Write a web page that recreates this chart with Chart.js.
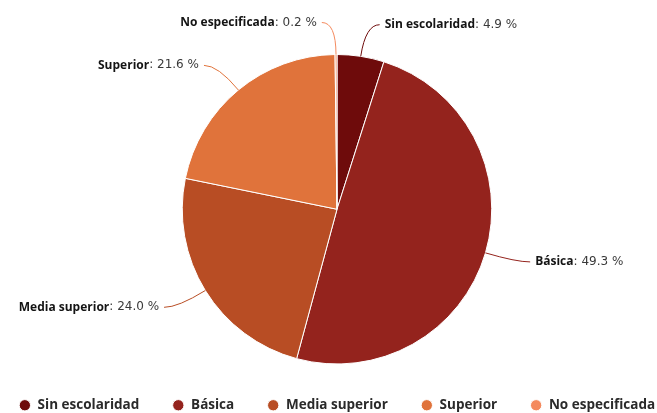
<!DOCTYPE html>
<html>
<head>
<meta charset="utf-8">
<script src="https://cdn.jsdelivr.net/npm/chart.js@4"></script>
<style>
  html, body { margin: 0; padding: 0; background: #fff; overflow: hidden; }
  #pie { display: block; margin-left: -43px; }
</style>
</head>
<body>
<canvas id="pie" width="760" height="422"></canvas>
<script>
// ── Data ─────────────────────────────────────
const CATEGORIES = ['Sin escolaridad', 'Básica', 'Media superior', 'Superior', 'No especificada'];
const SHARES     = [4.9, 49.3, 24.0, 21.6, 0.2];
const COLORS     = ['#6e0b0b', '#94231d', '#b84d24', '#e0733b', '#f48a5e'];

const NAME_FONT  = 'bold 12px "Open Sans"';
const VALUE_FONT = '12px "DejaVu Sans"';

// ── Outside labels with connectors ───────────
const sliceLabels = {
  id: 'sliceLabels',
  afterDatasetsDraw(chart) {
    const ctx  = chart.ctx;
    const arcs = chart.getDatasetMeta(0).data;
    ctx.save();
    ctx.textBaseline = 'middle';
    arcs.forEach((arc, i) => {
      const { x, y, startAngle, endAngle, outerRadius: r } =
        arc.getProps(['x', 'y', 'startAngle', 'endAngle', 'outerRadius'], true);
      const mid = (startAngle + endAngle) / 2;
      const cos = Math.cos(mid), sin = Math.sin(mid);
      const ax = x + cos * r,        ay = y + sin * r;
      const bx = x + cos * (r + 32), by = y + sin * (r + 32);
      const right = cos >= 0;
      const tx = bx + (right ? 19 : -19);

      // connector
      ctx.strokeStyle = COLORS[i];
      ctx.lineWidth = 1;
      ctx.beginPath();
      ctx.moveTo(ax, ay);
      ctx.quadraticCurveTo(bx, by, tx + (right ? -5 : 5), by);
      ctx.stroke();

      // text: bold name + normal value
      const name = CATEGORIES[i];
      const val  = ': ' + SHARES[i].toFixed(1) + ' %';
      ctx.font = NAME_FONT;
      const nw = ctx.measureText(name).width;
      ctx.font = VALUE_FONT;
      const vw = ctx.measureText(val).width;
      const x0 = right ? tx : tx - nw - vw;
      ctx.textAlign = 'left';
      ctx.font = NAME_FONT;
      ctx.fillStyle = '#141414';
      ctx.fillText(name, x0, by);
      ctx.font = VALUE_FONT;
      ctx.fillStyle = '#3a3a3a';
      ctx.fillText(val, x0 + nw, by);
    });
    ctx.restore();
  }
};

new Chart(document.getElementById('pie'), {
  type: 'pie',
  data: {
    labels: CATEGORIES,
    datasets: [{
      data: SHARES,
      backgroundColor: COLORS,
      borderColor: '#ffffff',
      borderWidth: 1
    }]
  },
  options: {
    responsive: false,
    animation: false,
    layout: { padding: { top: 54 } },
    plugins: {
      tooltip: { enabled: false },
      legend: {
        position: 'bottom',
        title: { display: true, text: '', font: { size: 1, lineHeight: 1 }, padding: 0 },
        labels: {
          usePointStyle: true,
          pointStyle: 'circle',
          boxWidth: 12,
          boxHeight: 8,
          padding: 33,
          color: '#2a2a2a',
          font: { family: 'Open Sans', size: 13.5, weight: 'bold' }
        }
      }
    }
  },
  plugins: [sliceLabels]
});
</script>
</body>
</html>
